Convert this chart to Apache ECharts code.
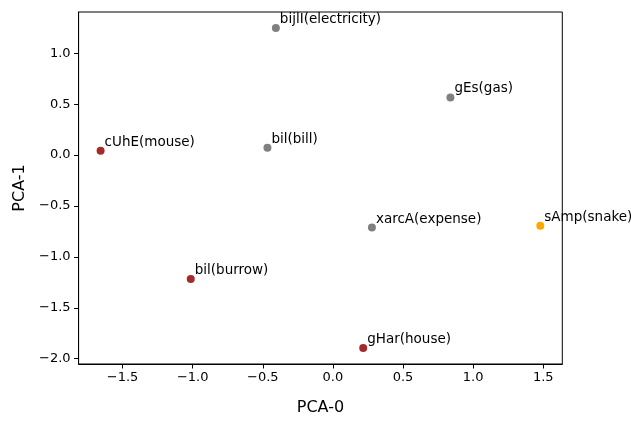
<!DOCTYPE html>
<html>
<head>
<meta charset="utf-8">
<script src="https://cdn.jsdelivr.net/npm/echarts@6/dist/echarts.min.js"></script>
<style>
html,body{margin:0;padding:0;background:#fff;}
#chart{width:631px;height:421px;}
</style>
</head>
<body>
<div id="chart"></div>
<script>
var labels = ["bijlI(electricity)", "gEs(gas)", "cUhE(mouse)", "bil(bill)", "xarcA(expense)", "sAmp(snake)", "bil(burrow)", "gHar(house)"];
var pca0 = [-0.407, 0.838, -1.657, -0.467, 0.278, 1.479, -1.014, 0.216];
var pca1 = [1.248, 0.566, 0.043, 0.071, -0.712, -0.694, -1.217, -1.895];
var pointColors = ["#808080", "#808080", "#a52a2a", "#808080", "#808080", "#ffa500", "#a52a2a", "#a52a2a"];
var xTicks = [-1.5, -1.0, -0.5, 0.0, 0.5, 1.0, 1.5];
var yTicks = [-2.0, -1.5, -1.0, -0.5, 0.0, 0.5, 1.0];

function fmt(v){ return (v < 0 ? '\u2212' : '') + Math.abs(v).toFixed(1); }

// matplotlib-style 5% margins
function lims(arr){
  var lo = Math.min.apply(null, arr), hi = Math.max.apply(null, arr), m = (hi - lo) * 0.05;
  return [lo - m, hi + m];
}
var xl = lims(pca0), yl = lims(pca1);

var data = labels.map(function(l, i){
  return { name: l, value: [pca0[i], pca1[i]], itemStyle: { color: pointColors[i], opacity: 1 } };
});

var font = 'DejaVu Sans';
var chart = echarts.init(document.getElementById('chart'), null, {renderer: 'canvas'});
chart.setOption({
  animation: false,
  backgroundColor: '#fff',
  grid: { left: 78.6, right: 631 - 562.3, top: 12, bottom: 421 - 373.5, show: true, borderColor: '#000', borderWidth: 1 },
  xAxis: {
    type: 'value', min: xl[0], max: xl[1],
    name: 'PCA-0', nameLocation: 'middle', nameGap: 36,
    nameTextStyle: { fontFamily: font, fontSize: 16, color: '#000' },
    axisLine: { show: true, onZero: false, lineStyle: { color: '#000', width: 1 } },
    axisTick: { show: true, length: 4.5, lineStyle: { color: '#000' }, customValues: xTicks },
    axisLabel: { margin: 7, fontFamily: font, fontSize: 13, color: '#000', customValues: xTicks, formatter: fmt },
    splitLine: { show: false }
  },
  yAxis: {
    type: 'value', min: yl[0], max: yl[1],
    name: 'PCA-1', nameLocation: 'middle', nameGap: 49,
    nameTextStyle: { fontFamily: font, fontSize: 16, color: '#000' },
    axisLine: { show: true, onZero: false, lineStyle: { color: '#000', width: 1 } },
    axisTick: { show: true, length: 4.5, lineStyle: { color: '#000' }, customValues: yTicks },
    axisLabel: { margin: 8, fontFamily: font, fontSize: 13, color: '#000', customValues: yTicks, formatter: fmt },
    splitLine: { show: false }
  },
  series: [{
    type: 'scatter',
    symbolSize: 8,
    clip: false,
    data: data,
    itemStyle: { opacity: 1 },
    label: {
      show: true,
      formatter: '{b}',
      position: 'right',
      distance: 0,
      offset: [0, -8.5],
      fontFamily: font,
      fontSize: 13.5,
      color: '#000'
    },
    emphasis: { disabled: true }
  }]
});
</script>
</body>
</html>
